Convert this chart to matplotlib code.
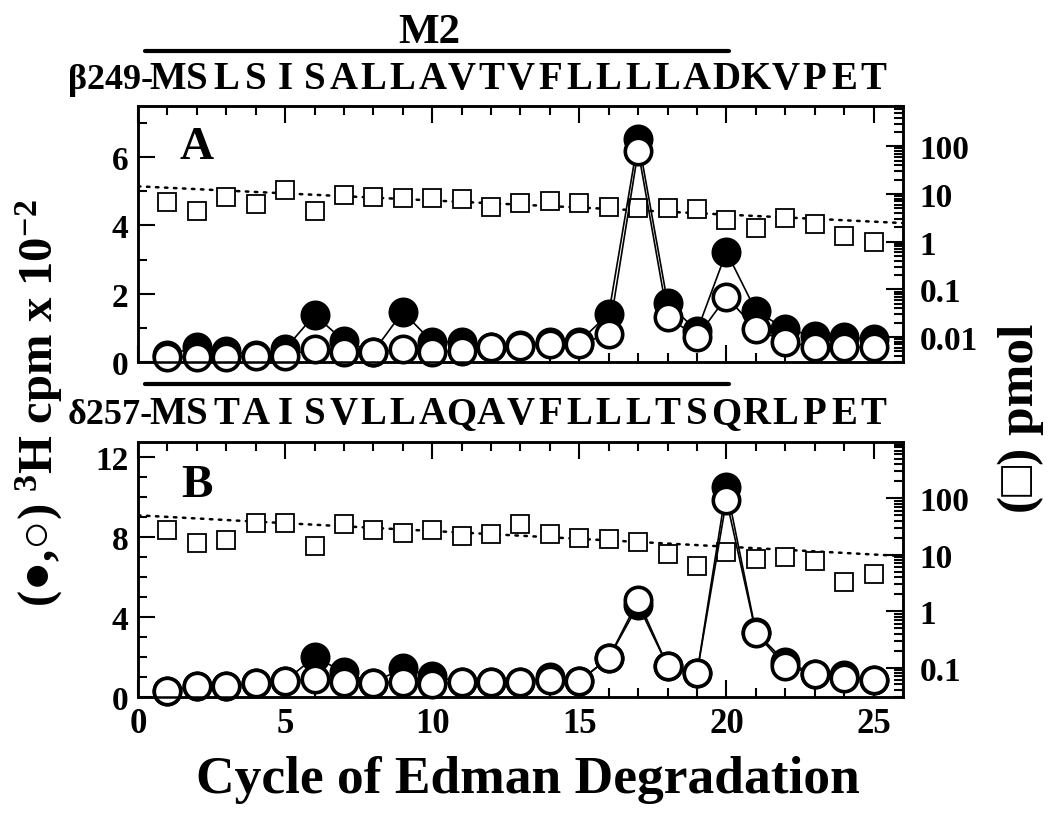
import numpy as np
import matplotlib
matplotlib.use("Agg")
import matplotlib.pyplot as plt
from matplotlib import ticker
from matplotlib.transforms import blended_transform_factory

plt.rcParams['font.family'] = ['Liberation Serif', 'DejaVu Serif']
plt.rcParams['font.weight'] = 'bold'
plt.rcParams['mathtext.fontset'] = 'custom'
plt.rcParams['mathtext.rm'] = 'Liberation Serif:bold'
plt.rcParams['mathtext.it'] = 'Liberation Serif:bold'
plt.rcParams['mathtext.bf'] = 'Liberation Serif:bold'

# Edman cycles
cycles = np.arange(1, 26)

# panel A: beta subunit
seqA = "MSLSISALLAVTVFLLLLADKVPET"
prefixA = "\u03b2249-"
filledA = [0.2, 0.44, 0.32, 0.2, 0.38, 1.38, 0.62, 0.3, 1.47, 0.59, 0.59, 0.45, 0.5,
           0.6, 0.6, 1.41, 6.54, 1.73, 0.91, 3.23, 1.5, 0.97, 0.76, 0.73, 0.67]
openA = [0.15, 0.15, 0.15, 0.18, 0.18, 0.38, 0.29, 0.29, 0.38, 0.29, 0.32, 0.44, 0.47,
         0.53, 0.53, 0.82, 6.19, 1.32, 0.73, 1.91, 0.97, 0.59, 0.44, 0.44, 0.44]
pmolA = [6.7, 4.4, 8.5, 6.1, 12, 4.4, 9.4, 8.5, 8.2, 8.2, 8.0, 5.3, 6.4,
         7.1, 6.4, 5.3, 5.0, 5.0, 4.8, 2.9, 1.9, 3.2, 2.3, 1.3, 1.0]
fitA = (14.5, 0.934)  # initial amount, repetitive yield

# panel B: delta subunit
seqB = "MSTAISVLLAQAVFLLLTSQRLPET"
prefixB = "\u03b4257-"
filledB = [0.3, 0.55, 0.55, 0.7, 0.8, 2.0, 1.25, 0.7, 1.45, 1.05, 0.75, 0.75, 0.75,
           1.0, 0.8, 1.95, 4.6, 1.55, 1.2, 10.5, 3.25, 1.75, 1.15, 1.1, 0.85]
openB = [0.3, 0.55, 0.55, 0.7, 0.8, 0.9, 0.75, 0.7, 0.75, 0.65, 0.75, 0.75, 0.75,
         0.85, 0.8, 1.95, 4.85, 1.55, 1.2, 9.85, 3.2, 1.55, 1.15, 0.95, 0.85]
pmolB = [28, 16.3, 18.5, 37, 37, 14.5, 35.5, 27, 24.5, 27, 21.8, 23.7, 35.5,
         23.7, 20, 19.3, 17, 10.5, 6.3, 11.2, 8.5, 9.2, 7.8, 3.3, 4.6]
fitB = (50, 0.938)


def setup_panel(ax, ax2, ylim, ymajor, rlim, rmajors):
    ax.set_xlim(0, 26)
    ax.set_ylim(*ylim)
    ax.xaxis.set_major_locator(ticker.MultipleLocator(5))
    ax.xaxis.set_minor_locator(ticker.MultipleLocator(1))
    ax.yaxis.set_major_locator(ticker.MultipleLocator(ymajor))
    ax.yaxis.set_minor_locator(ticker.MultipleLocator(1))
    ax.tick_params(which='both', direction='in', top=True, width=1.5, labelsize=24)
    ax.tick_params(axis='x', labelsize=25)
    ax.tick_params(which='major', length=12, pad=7)
    ax.tick_params(which='minor', length=6.5)
    ax2.set_yscale('log')
    ax2.set_ylim(*rlim)
    ax2.yaxis.set_major_locator(ticker.FixedLocator(rmajors))
    ax2.yaxis.set_minor_locator(ticker.LogLocator(base=10, subs=np.arange(2, 10), numticks=30))
    ax2.yaxis.set_major_formatter(ticker.FuncFormatter(lambda v, p: f"{v:g}"))
    ax2.yaxis.set_minor_formatter(ticker.NullFormatter())
    ax2.tick_params(which='both', direction='in', width=1.5, labelsize=24)
    ax2.tick_params(which='major', length=12, pad=12)
    ax2.tick_params(which='minor', length=6.5)
    for a in (ax, ax2):
        for s in a.spines.values():
            s.set_linewidth(1.8)
    ax.set_zorder(ax2.get_zorder() + 1)
    ax.patch.set_visible(False)


def draw_data(ax, ax2, filled, opn, pmol, fit):
    xs = np.linspace(0, 26, 100)
    ax2.plot(xs, fit[0] * fit[1] ** xs, color='k', lw=1.8,
             linestyle=(0, (1, 2.6)), dash_capstyle='round')
    ax2.plot(cycles, pmol, 's', ms=13.5, mfc='white', mec='k', mew=1.3)
    ax.plot(cycles, filled, '-o', color='k', lw=1.2, ms=19, mfc='k', mec='k', mew=2.6,
            clip_on=False)
    ax.plot(cycles, opn, '-o', color='k', lw=1.2, ms=19, mfc='white', mec='k', mew=2.6,
            clip_on=False)


def draw_sequence(ax, seq, prefix, ybase, yline):
    tr = blended_transform_factory(ax.transData, ax.transAxes)
    for c, letter in zip(cycles, seq):
        ax.text(c, ybase, letter, transform=tr, ha='center', va='baseline',
                fontsize=28, fontweight='bold')
    ax.text(0.5, ybase, prefix, transform=tr, ha='right', va='baseline',
            fontsize=26, fontweight='bold')
    ax.plot([0.25, 20.1], [yline, yline], transform=tr, color='k', lw=3,
            clip_on=False, solid_capstyle='round')


fig = plt.figure(figsize=(10.5, 8.2), dpi=100)
axA = fig.add_axes([0.1314, 0.5573, 0.7286, 0.3122])
axA2 = axA.twinx()
axB = fig.add_axes([0.1314, 0.1488, 0.7286, 0.311])
axB2 = axB.twinx()

setup_panel(axA, axA2, (0, 7.5), 2, (0.003, 700), [0.01, 0.1, 1, 10, 100])
setup_panel(axB, axB2, (0, 12.75), 4, (0.03, 1000), [0.1, 1, 10, 100])
axA.tick_params(labelbottom=False)

draw_data(axA, axA2, filledA, openA, pmolA, fitA)
draw_data(axB, axB2, filledB, openB, pmolB, fitB)

draw_sequence(axA, seqA, prefixA, 1.07, 1.215)
draw_sequence(axB, seqB, prefixB, 1.0745, 1.227)

trA = blended_transform_factory(axA.transData, axA.transAxes)
axA.text(9.9, 1.25, "M2", transform=trA, ha='center', va='baseline',
         fontsize=31, fontweight='bold')

axA.text(0.077, 0.84, "A", transform=axA.transAxes, ha='center', va='center',
         fontsize=34, fontweight='bold')
axB.text(0.077, 0.83, "B", transform=axB.transAxes, ha='center', va='center',
         fontsize=34, fontweight='bold')

fig.text(0.037, 0.508, "(\u25cf,\u25cb) $^{3}$H cpm x 10$^{-2}$", rotation=90,
         ha='center', va='center', fontsize=35, fontweight='bold')
fig.text(0.972, 0.49, "(\u25a1) pmol", rotation=90,
         ha='center', va='center', fontsize=37, fontweight='bold')
fig.text(0.503, 0.049, "Cycle of Edman Degradation", ha='center', va='center',
         fontsize=38.5, fontweight='bold')

fig.savefig("out.png", dpi=100)
